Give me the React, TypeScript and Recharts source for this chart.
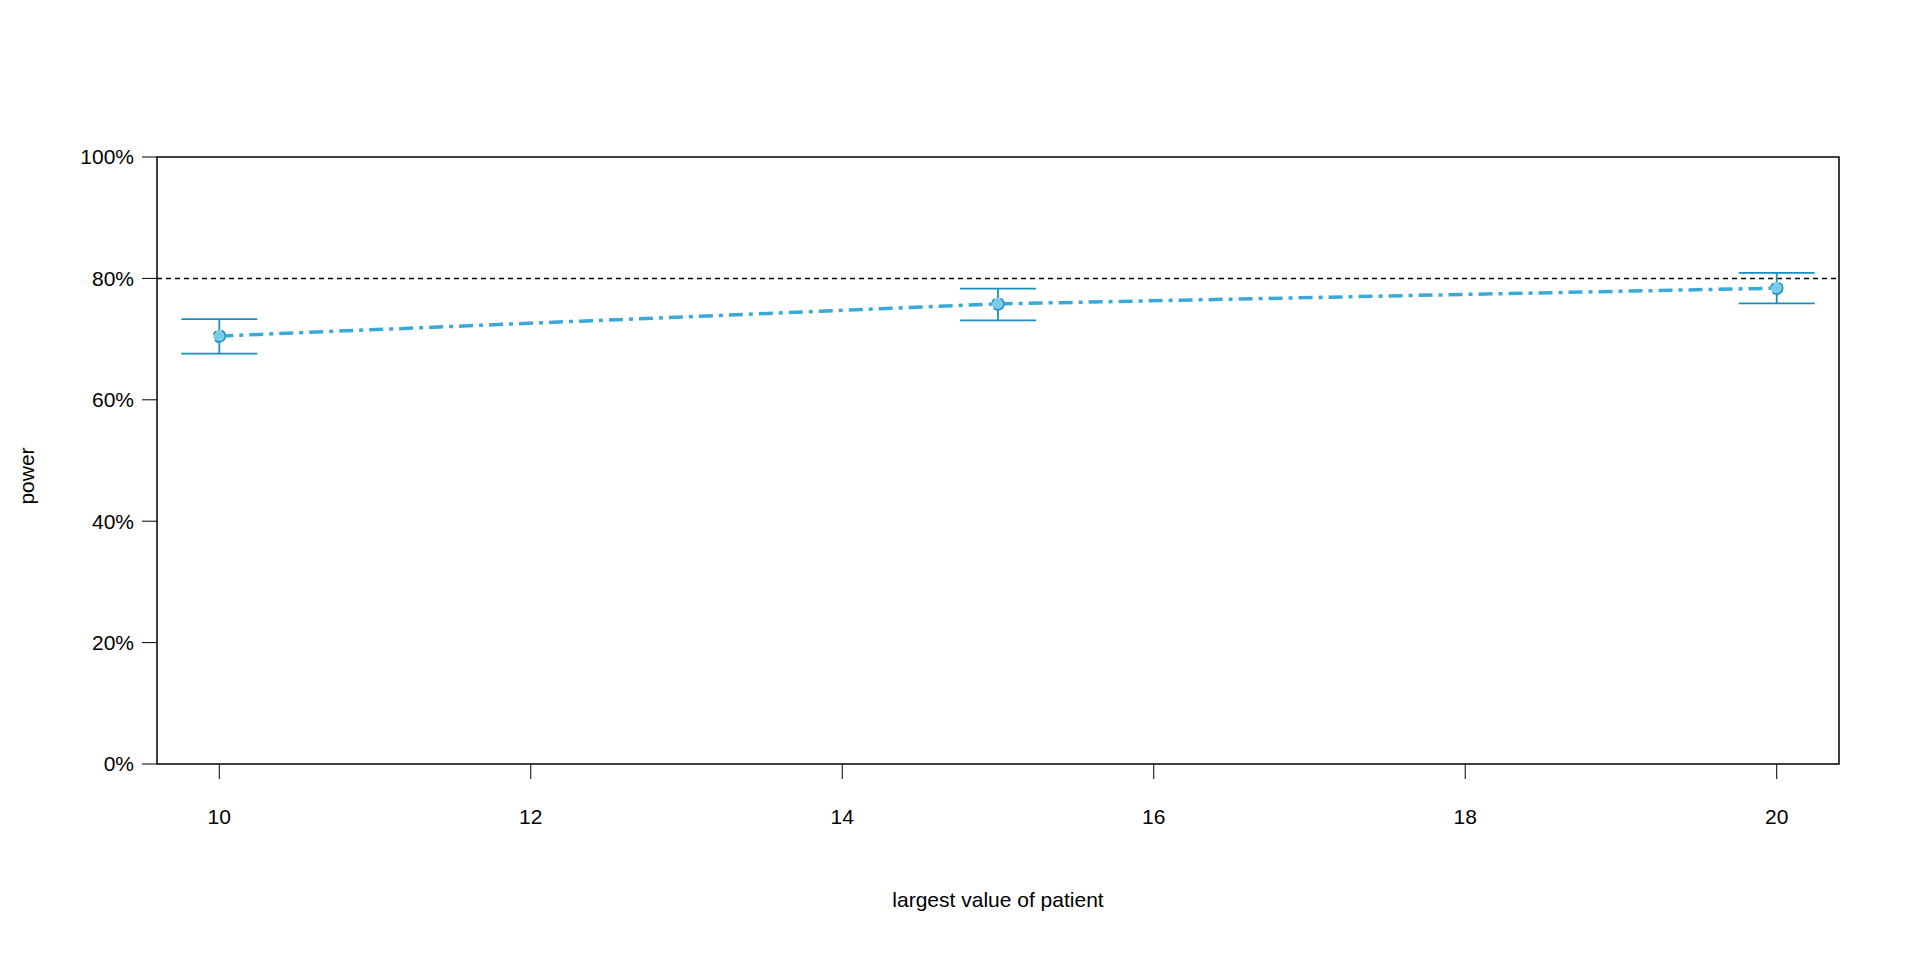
import React from 'react'
import {
  ComposedChart,
  Line,
  XAxis,
  YAxis,
  ErrorBar,
  ReferenceLine,
  ReferenceArea,
} from 'recharts'

const xValues = [10, 15, 20]
const power = [70.5, 75.8, 78.4]
const lower = [67.6, 73.1, 75.9]
const upper = [73.3, 78.3, 80.9]
const xTicks = [10, 12, 14, 16, 18, 20]
const yTicks = [0, 20, 40, 60, 80, 100]

const data = xValues.map((x, i) => ({
  x,
  power: power[i],
  err: [power[i] - lower[i], upper[i] - power[i]],
}))

const font = 'Liberation Sans, Arial, sans-serif'
const tickStyle = { fontSize: 21, fill: '#000', fontFamily: font }

export default function App() {
  return (
    <div style={{ position: 'absolute', left: 0, top: 0, width: 1920, height: 960, background: '#fff' }}>
      <ComposedChart
        width={1920}
        height={960}
        data={data}
        margin={{ top: 157, right: 81, left: 0, bottom: 0 }}
      >
        <XAxis
          dataKey="x"
          type="number"
          domain={[9.6, 20.4]}
          ticks={xTicks}
          height={196}
          axisLine={false}
          tickLine={{ stroke: '#000' }}
          tickSize={15}
          tickMargin={30}
          tick={tickStyle}
        />
        <YAxis
          type="number"
          domain={[0, 100]}
          ticks={yTicks}
          width={157}
          axisLine={false}
          tickLine={{ stroke: '#000' }}
          tickSize={15}
          tickMargin={8}
          tick={tickStyle}
          tickFormatter={(v) => `${v}%`}
        />
        <ReferenceArea x1={9.6} x2={20.4} y1={0} y2={100} fill="none" stroke="#000" strokeWidth={1.5} ifOverflow="visible" />
        <ReferenceLine y={80} stroke="#000" strokeDasharray="5 4" strokeWidth={1.5} />
        <Line
          dataKey="power"
          stroke="#3aa9d8"
          strokeWidth={3.5}
          strokeDasharray="14 6 4 6"
          dot={{ r: 6, fill: '#7ccbe6', stroke: '#1a8fbf', strokeWidth: 1.5 }}
          isAnimationActive={false}
        >
          <ErrorBar dataKey="err" width={38} stroke="#1a8fbf" strokeWidth={1.8} direction="y" />
        </Line>
      </ComposedChart>
      <div
        style={{
          position: 'absolute', left: 998, top: 888, transform: 'translateX(-50%)',
          fontFamily: font, fontSize: 21, whiteSpace: 'nowrap',
        }}
      >
        largest value of patient
      </div>
      <div
        style={{
          position: 'absolute', left: 27, top: 476, transform: 'translate(-50%, -50%) rotate(-90deg)',
          fontFamily: font, fontSize: 21, whiteSpace: 'nowrap',
        }}
      >
        power
      </div>
    </div>
  )
}
